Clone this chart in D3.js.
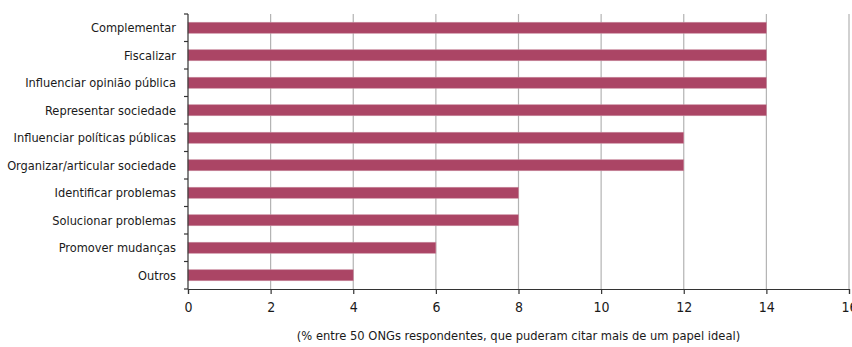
<!DOCTYPE html>
<html>
<head>
<meta charset="utf-8">
<title>Papel ideal das ONGs</title>
<script src="https://d3js.org/d3.v7.min.js"></script>
<style>
  body { margin: 0; background: #fff; }
  svg text { font-family: "DejaVu Sans Condensed", "DejaVu Sans", sans-serif; font-stretch: condensed; fill: #1a1a1a; }
</style>
</head>
<body>
<svg id="chart" width="852" height="347"></svg>
<script>
const categories = ["Complementar", "Fiscalizar", "Influenciar opinião pública", "Representar sociedade",
  "Influenciar políticas públicas", "Organizar/articular sociedade", "Identificar problemas",
  "Solucionar problemas", "Promover mudanças", "Outros"];
const values = [14, 14, 14, 14, 12, 12, 8, 8, 6, 4];
const xTicks = [0, 2, 4, 6, 8, 10, 12, 14, 16];
const caption = "(% entre 50 ONGs respondentes, que puderam citar mais de um papel ideal)";

const margin = {top: 14, left: 188, right: 3, bottom: 58};
const width = 852, height = 347;
const svg = d3.select("#chart");

let x = d3.scaleLinear().domain([0, 16]).range([margin.left, width - margin.right]);
let y = d3.scaleBand().domain(categories).range([margin.top, height - margin.bottom]).paddingInner(0.6).paddingOuter(0.3);
let yStep = y.step();

// gridlines
svg.append("g").selectAll("line")
  .data(xTicks.slice(1))
  .join("line")
  .attr("x1", d => x(d)).attr("x2", d => x(d))
  .attr("y1", margin.top).attr("y2", height - margin.bottom)
  .attr("stroke", "#b3b3b3").attr("stroke-width", 1.2);

// bars
svg.append("g").selectAll("rect")
  .data(categories)
  .join("rect")
  .attr("x", x(0))
  .attr("y", d => y(d))
  .attr("width", (d, i) => x(values[i]) - x(0))
  .attr("height", y.bandwidth())
  .attr("fill", "#ab4565")
  .attr("stroke", "#c98a9e").attr("stroke-width", 0.6);

// x axis
let xAxis = svg.append("g")
  .attr("transform", `translate(0,${height - margin.bottom})`)
  .call(d3.axisBottom(x).tickValues(xTicks).tickSize(5).tickPadding(8));
xAxis.select(".domain").attr("stroke", "#333").attr("stroke-width", 1.2);
xAxis.selectAll(".tick line").attr("stroke", "#333").attr("stroke-width", 1.2);
xAxis.selectAll("text").attr("font-size", 14).attr("font-family", null).attr("fill", "#1a1a1a");

// y axis with ticks at band boundaries
let yAxis = svg.append("g");
yAxis.append("line")
  .attr("x1", x(0)).attr("x2", x(0))
  .attr("y1", margin.top).attr("y2", height - margin.bottom)
  .attr("stroke", "#333").attr("stroke-width", 1.2);
let bounds = d3.range(categories.length + 1).map(i => margin.top + i * yStep);
yAxis.selectAll("line.tk")
  .data(bounds)
  .join("line").attr("class", "tk")
  .attr("x1", x(0) - 4).attr("x2", x(0))
  .attr("y1", d => d).attr("y2", d => d)
  .attr("stroke", "#333").attr("stroke-width", 1.2);
yAxis.selectAll("text")
  .data(categories)
  .join("text")
  .attr("x", x(0) - 12)
  .attr("y", d => y(d) + y.bandwidth() / 2)
  .attr("dy", "0.35em")
  .attr("text-anchor", "end")
  .attr("font-size", 12.7)
  .text(d => d);

// caption
svg.append("text")
  .attr("x", (margin.left + width - margin.right) / 2)
  .attr("y", 340)
  .attr("text-anchor", "middle")
  .attr("font-size", 12.8)
  .text(caption);
</script>
</body>
</html>
